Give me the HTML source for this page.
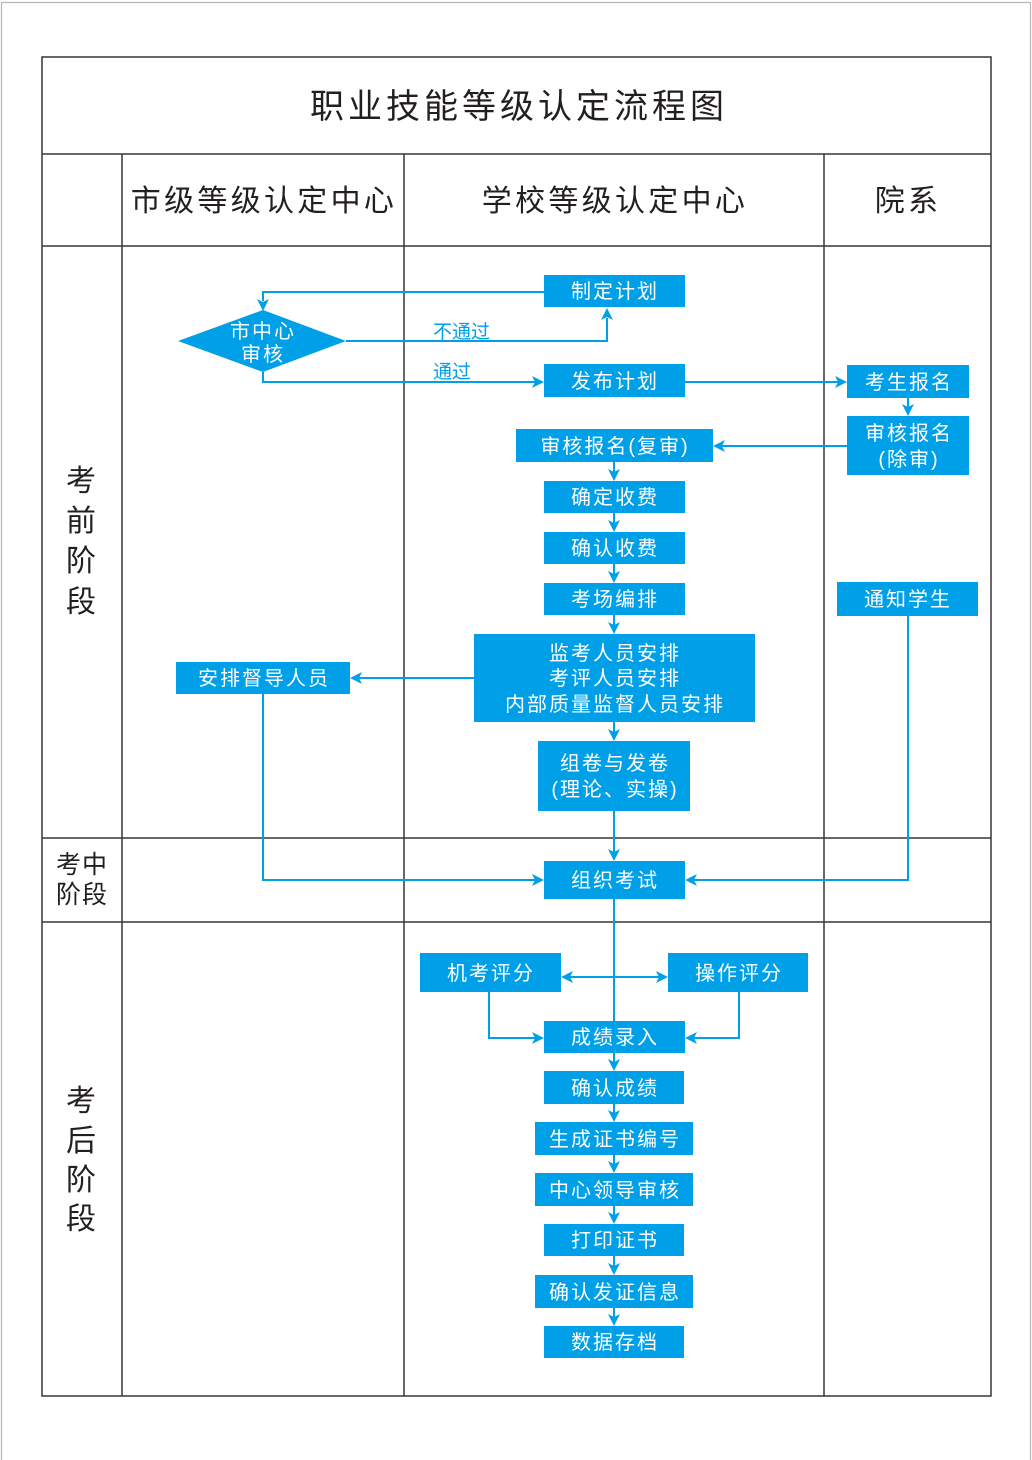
<!DOCTYPE html>
<html>
<head>
<meta charset="utf-8">
<style>
html,body{margin:0;padding:0;background:#fff;}
svg{display:block;}
text{font-family:"Liberation Sans","Noto Sans CJK SC",sans-serif;}
.bx{fill:#00a0e9;}
.bt{fill:#fff;font-size:20px;letter-spacing:2px;text-anchor:middle;}
.ln{fill:none;stroke:#00a0e9;stroke-width:2;}
.ah{fill:#00a0e9;}
.tl{stroke:#3a3536;stroke-width:1.5;fill:none;}
.hd{fill:#231f20;text-anchor:middle;}
</style>
</head>
<body>
<svg width="1032" height="1460" viewBox="0 0 1032 1460" xmlns="http://www.w3.org/2000/svg">
<!-- outer page border -->
<rect x="1.5" y="2.5" width="1029" height="1462" fill="none" stroke="#b3b3b3" stroke-width="1.2"/>

<!-- table -->
<rect class="tl" x="42" y="57" width="949" height="1339"/>
<line class="tl" x1="42" y1="154" x2="991" y2="154"/>
<line class="tl" x1="42" y1="246" x2="991" y2="246"/>
<line class="tl" x1="42" y1="838" x2="991" y2="838"/>
<line class="tl" x1="42" y1="922" x2="991" y2="922"/>
<line class="tl" x1="122" y1="154" x2="122" y2="1396"/>
<line class="tl" x1="404" y1="154" x2="404" y2="1396"/>
<line class="tl" x1="824" y1="154" x2="824" y2="1396"/>

<!-- title -->
<text class="hd" x="519" y="118" font-size="34" letter-spacing="4">职业技能等级认定流程图</text>
<!-- column headers -->
<text class="hd" x="264" y="211" font-size="30" letter-spacing="3.3">市级等级认定中心</text>
<text class="hd" x="615" y="211" font-size="30" letter-spacing="3.3">学校等级认定中心</text>
<text class="hd" x="908" y="211" font-size="30" letter-spacing="3.3">院系</text>

<!-- side labels -->
<g class="hd" font-size="30">
<text x="81" y="491">考</text>
<text x="81" y="531">前</text>
<text x="81" y="571">阶</text>
<text x="81" y="612">段</text>
<text x="81" y="1111">考</text>
<text x="81" y="1151">后</text>
<text x="81" y="1190">阶</text>
<text x="81" y="1229">段</text>
</g>
<g class="hd" font-size="25">
<text x="82" y="873" letter-spacing="1">考中</text>
<text x="82" y="903" letter-spacing="1">阶段</text>
</g>

<!-- connectors -->
<polyline class="ln" points="544,292 263,292 263,301"/>
<path class="ah" d="M263 311 L257 299 L263 302 L269 299 Z"/>

<polyline class="ln" points="346,341 607,341 607,318"/>
<path class="ah" d="M607 308 L601 320 L607 317 L613 320 Z"/>

<polyline class="ln" points="263,372 263,382 535,382"/>
<path class="ah" d="M544 382 L532 376 L535 382 L532 388 Z"/>

<line class="ln" x1="685" y1="382" x2="838" y2="382"/>
<path class="ah" d="M847 382 L835 376 L838 382 L835 388 Z"/>

<line class="ln" x1="908" y1="398" x2="908" y2="407"/>
<path class="ah" d="M908 416 L902 404 L908 407 L914 404 Z"/>

<line class="ln" x1="847" y1="446" x2="722" y2="446"/>
<path class="ah" d="M713 446 L725 440 L722 446 L725 452 Z"/>

<line class="ln" x1="614" y1="462" x2="614" y2="472"/>
<path class="ah" d="M614 481 L608 469 L614 472 L620 469 Z"/>
<line class="ln" x1="614" y1="513" x2="614" y2="523"/>
<path class="ah" d="M614 532 L608 520 L614 523 L620 520 Z"/>
<line class="ln" x1="614" y1="564" x2="614" y2="574"/>
<path class="ah" d="M614 583 L608 571 L614 574 L620 571 Z"/>
<line class="ln" x1="614" y1="615" x2="614" y2="625"/>
<path class="ah" d="M614 634 L608 622 L614 625 L620 622 Z"/>

<line class="ln" x1="474" y1="678" x2="359" y2="678"/>
<path class="ah" d="M350 678 L362 672 L359 678 L362 684 Z"/>

<line class="ln" x1="614" y1="722" x2="614" y2="732"/>
<path class="ah" d="M614 741 L608 729 L614 732 L620 729 Z"/>
<line class="ln" x1="614" y1="811" x2="614" y2="852"/>
<path class="ah" d="M614 861 L608 849 L614 852 L620 849 Z"/>

<polyline class="ln" points="263,694 263,880 535,880"/>
<path class="ah" d="M544 880 L532 874 L535 880 L532 886 Z"/>

<polyline class="ln" points="908,616 908,880 694,880"/>
<path class="ah" d="M685 880 L697 874 L694 880 L697 886 Z"/>

<line class="ln" x1="614" y1="899" x2="614" y2="1021"/>

<line class="ln" x1="570" y1="977" x2="659" y2="977"/>
<path class="ah" d="M561 977 L573 971 L570 977 L573 983 Z"/>
<path class="ah" d="M668 977 L656 971 L659 977 L656 983 Z"/>

<polyline class="ln" points="489,992 489,1038 535,1038"/>
<path class="ah" d="M544 1038 L532 1032 L535 1038 L532 1044 Z"/>
<polyline class="ln" points="739,992 739,1038 694,1038"/>
<path class="ah" d="M685 1038 L697 1032 L694 1038 L697 1044 Z"/>

<line class="ln" x1="614" y1="1053" x2="614" y2="1062"/>
<path class="ah" d="M614 1071 L608 1059 L614 1062 L620 1059 Z"/>
<line class="ln" x1="614" y1="1104" x2="614" y2="1113"/>
<path class="ah" d="M614 1122 L608 1110 L614 1113 L620 1110 Z"/>
<line class="ln" x1="614" y1="1155" x2="614" y2="1164"/>
<path class="ah" d="M614 1173 L608 1161 L614 1164 L620 1161 Z"/>
<line class="ln" x1="614" y1="1206" x2="614" y2="1215"/>
<path class="ah" d="M614 1224 L608 1212 L614 1215 L620 1212 Z"/>
<line class="ln" x1="614" y1="1256" x2="614" y2="1266"/>
<path class="ah" d="M614 1275 L608 1263 L614 1266 L620 1263 Z"/>
<line class="ln" x1="614" y1="1308" x2="614" y2="1317"/>
<path class="ah" d="M614 1326 L608 1314 L614 1317 L620 1314 Z"/>

<!-- connector labels -->
<text x="433" y="338" font-size="19" fill="#00a0e9">不通过</text>
<text x="433" y="378" font-size="19" fill="#00a0e9">通过</text>

<!-- diamond -->
<polygon class="bx" points="178,341 263,310 346,341 263,372"/>
<text class="bt" x="263" y="338" letter-spacing="0">市中心</text>
<text class="bt" x="263" y="361" letter-spacing="0">审核</text>

<!-- boxes -->
<rect class="bx" x="544" y="275" width="141" height="32"/>
<text class="bt" x="615" y="298">制定计划</text>

<rect class="bx" x="544" y="364" width="141" height="33"/>
<text class="bt" x="615" y="388">发布计划</text>

<rect class="bx" x="847" y="365" width="122" height="33"/>
<text class="bt" x="909" y="389">考生报名</text>

<rect class="bx" x="847" y="416" width="122" height="59"/>
<text class="bt" x="909" y="440">审核报名</text>
<text class="bt" x="909" y="466">(除审)</text>

<rect class="bx" x="516" y="429" width="197" height="33"/>
<text class="bt" x="615" y="453">审核报名(复审)</text>

<rect class="bx" x="544" y="481" width="141" height="32"/>
<text class="bt" x="615" y="504">确定收费</text>
<rect class="bx" x="544" y="532" width="141" height="32"/>
<text class="bt" x="615" y="555">确认收费</text>
<rect class="bx" x="544" y="583" width="141" height="32"/>
<text class="bt" x="615" y="606">考场编排</text>

<rect class="bx" x="837" y="582" width="141" height="34"/>
<text class="bt" x="908" y="606">通知学生</text>

<rect class="bx" x="474" y="634" width="281" height="88"/>
<text class="bt" x="615" y="660">监考人员安排</text>
<text class="bt" x="615" y="685">考评人员安排</text>
<text class="bt" x="615" y="711">内部质量监督人员安排</text>

<rect class="bx" x="176" y="662" width="174" height="32"/>
<text class="bt" x="264" y="685">安排督导人员</text>

<rect class="bx" x="538" y="741" width="152" height="70"/>
<text class="bt" x="615" y="770">组卷与发卷</text>
<text class="bt" x="615" y="796" letter-spacing="1">(理论、实操)</text>

<rect class="bx" x="544" y="861" width="141" height="38"/>
<text class="bt" x="615" y="887">组织考试</text>

<rect class="bx" x="420" y="953" width="141" height="39"/>
<text class="bt" x="491" y="980">机考评分</text>
<rect class="bx" x="668" y="953" width="140" height="39"/>
<text class="bt" x="739" y="980">操作评分</text>

<rect class="bx" x="544" y="1021" width="141" height="32"/>
<text class="bt" x="615" y="1044">成绩录入</text>
<rect class="bx" x="544" y="1071" width="140" height="33"/>
<text class="bt" x="615" y="1095">确认成绩</text>
<rect class="bx" x="535" y="1122" width="158" height="33"/>
<text class="bt" x="615" y="1146">生成证书编号</text>
<rect class="bx" x="535" y="1173" width="158" height="33"/>
<text class="bt" x="615" y="1197">中心领导审核</text>
<rect class="bx" x="544" y="1224" width="140" height="32"/>
<text class="bt" x="615" y="1247">打印证书</text>
<rect class="bx" x="535" y="1275" width="158" height="33"/>
<text class="bt" x="615" y="1299">确认发证信息</text>
<rect class="bx" x="544" y="1326" width="140" height="32"/>
<text class="bt" x="615" y="1349">数据存档</text>
</svg>
</body>
</html>
